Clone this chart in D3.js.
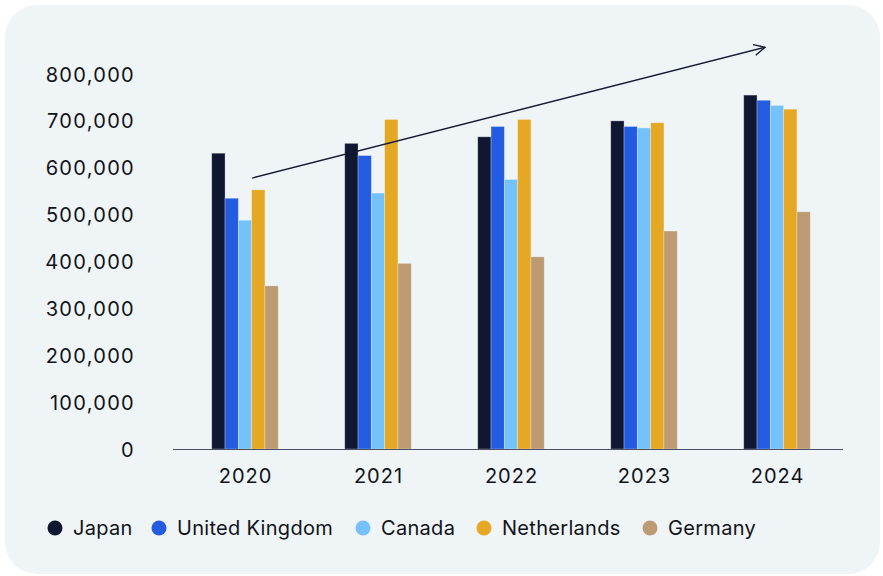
<!DOCTYPE html>
<html>
<head>
<meta charset="utf-8">
<script src="https://cdn.jsdelivr.net/npm/d3@7"></script>
<style>
  html, body { margin: 0; padding: 0; background: #ffffff; }
  svg { display: block; }
  text { font-family: Inter, "Noto Sans", sans-serif; fill: #111318; }
</style>
</head>
<body>
<svg id="chart" width="883" height="576"></svg>
<script>
// Yearly figures per country
const years = ["2020", "2021", "2022", "2023", "2024"];
const countries = ["Japan", "United Kingdom", "Canada", "Netherlands", "Germany"];
const japan = [631000, 652000, 666000, 700000, 755000];
const unitedKingdom = [535000, 626000, 688000, 688000, 744000];
const canada = [488000, 546000, 575000, 685000, 733000];
const netherlands = [553000, 703000, 703000, 696000, 725000];
const germany = [348000, 396000, 410000, 465000, 506000];
const yTicks = [0, 100000, 200000, 300000, 400000, 500000, 600000, 700000, 800000];
const colors = ["#0f1731", "#245ce1", "#75c2fb", "#e4a825", "#bc9a72"];

// Trend arrow endpoints (year, value)
const trendStart = { year: "2020", value: 578000 };
const trendEnd = { year: "2024", value: 857000 };

const seriesValues = [japan, unitedKingdom, canada, netherlands, germany];

const svg = d3.select("#chart");

// Card background
svg.append("rect")
  .attr("x", 5).attr("y", 5)
  .attr("width", 875).attr("height", 569)
  .attr("rx", 32).attr("ry", 32)
  .attr("fill", "#eff4f7");

const axisLeftX = 173, axisRightX = 843;
const baseY = 449;

const x0 = d3.scaleBand().domain(years).range([178.5, 843.5]).paddingInner(0.5).paddingOuter(0.25);
const x1 = d3.scaleBand().domain(countries).range([0, x0.bandwidth()]);
const y = d3.scaleLinear().domain([0, 800000]).range([baseY, 74]);

// Y axis labels
const yAxis = d3.axisLeft(y).tickValues(yTicks).tickSize(0).tickPadding(0)
  .tickFormat(d3.format(","));
const yg = svg.append("g").attr("transform", "translate(135,0)").call(yAxis);
yg.select(".domain").remove();
yg.selectAll("text")
  .attr("font-size", 20)
  .attr("fill", "#111318")
  .attr("dy", "0.35em")
  .style("letter-spacing", "1.3px")
  .style("font-family", "Inter, 'Noto Sans', sans-serif");

// Bars
const groups = svg.append("g").selectAll("g")
  .data(years)
  .join("g")
  .attr("transform", d => `translate(${x0(d)},0)`);

groups.selectAll("rect")
  .data((yr, i) => countries.map((c, k) => ({ c, k, v: seriesValues[k][i] })))
  .join("rect")
  .attr("x", d => x1(d.c))
  .attr("y", d => y(d.v))
  .attr("width", x1.bandwidth())
  .attr("height", d => baseY - y(d.v))
  .attr("fill", d => colors[d.k])
  .attr("stroke", "#ffffff")
  .attr("stroke-opacity", 0.35)
  .attr("stroke-width", 0.8);

// X axis
const xAxis = d3.axisBottom(x0).tickSize(0).tickPadding(0);
const xg = svg.append("g").attr("transform", `translate(0,${baseY})`).call(xAxis);
xg.select(".domain").remove();
xg.selectAll("text")
  .attr("font-size", 20)
  .attr("fill", "#111318")
  .attr("y", 34)
  .attr("dy", 0)
  .attr("dx", 0.5)
  .style("letter-spacing", "1px")
  .style("font-family", "Inter, 'Noto Sans', sans-serif");

svg.append("line")
  .attr("x1", axisLeftX).attr("x2", axisRightX)
  .attr("y1", baseY + 0.5).attr("y2", baseY + 0.5)
  .attr("stroke", "#4b5068").attr("stroke-width", 1.2);

// Trend arrow
const ax1 = x0(trendStart.year) + x1("Netherlands") + 0.5;
const ay1 = y(trendStart.value);
const ax2 = x0(trendEnd.year) + x1("United Kingdom") + x1.bandwidth() * 0.6;
const ay2 = y(trendEnd.value);
svg.append("defs").append("marker")
  .attr("id", "arrowhead")
  .attr("viewBox", "0 0 13 13")
  .attr("refX", 12).attr("refY", 6.5)
  .attr("markerWidth", 13).attr("markerHeight", 13)
  .attr("markerUnits", "userSpaceOnUse")
  .attr("orient", "auto")
  .append("path")
  .attr("d", "M1,1 L12,6.5 L1,12")
  .attr("fill", "none")
  .attr("stroke", "#141a33")
  .attr("stroke-width", 1.4);
svg.append("line")
  .attr("x1", ax1).attr("y1", ay1)
  .attr("x2", ax2).attr("y2", ay2)
  .attr("stroke", "#141a33")
  .attr("stroke-width", 1.4)
  .attr("marker-end", "url(#arrowhead)");

// Legend
const legendX = [55, 159, 363, 484, 650];
const legend = svg.append("g").selectAll("g")
  .data(countries)
  .join("g")
  .attr("transform", (d, i) => `translate(${legendX[i]},528)`);
legend.append("circle").attr("r", 7.5).attr("fill", (d, i) => colors[i]);
legend.append("text")
  .attr("x", 18).attr("dy", "0.35em")
  .attr("font-size", 20)
  .style("letter-spacing", "0.3px")
  .text(d => d);
</script>
</body>
</html>
